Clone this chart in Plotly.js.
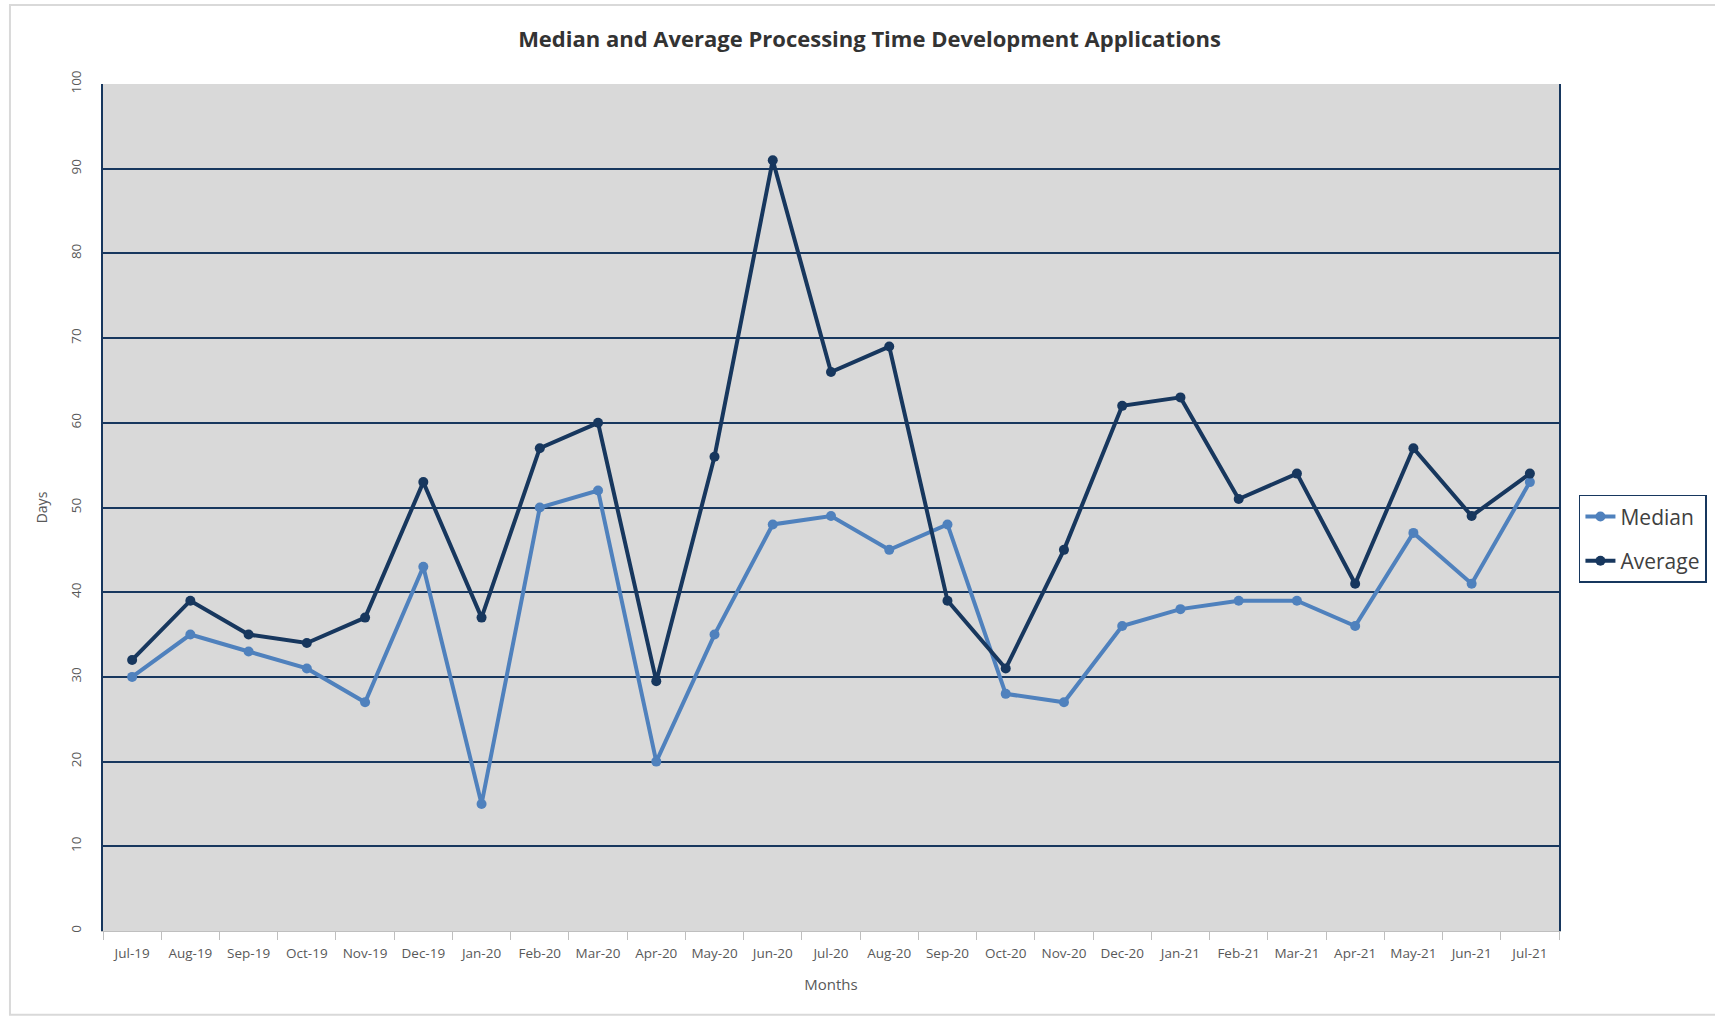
<!DOCTYPE html>
<html>
<head>
<meta charset="utf-8">
<script src="https://cdn.plot.ly/plotly-3.0.1.min.js"></script>
<style>
html,body{margin:0;padding:0;background:#fff;}
#chart{width:1715px;height:1017px;}
</style>
</head>
<body>
<div id="chart"></div>
<script>
const months = ["Jul-19","Aug-19","Sep-19","Oct-19","Nov-19","Dec-19","Jan-20","Feb-20","Mar-20","Apr-20","May-20","Jun-20","Jul-20","Aug-20","Sep-20","Oct-20","Nov-20","Dec-20","Jan-21","Feb-21","Mar-21","Apr-21","May-21","Jun-21","Jul-21"];
const median = [30,35,33,31,27,43,15,50,52,20,35,48,49,45,48,28,27,36,38,39,39,36,47,41,53];
const average = [32,39,35,34,37,53,37,57,60,29.5,56,91,66,69,39,31,45,62,63,51,54,41,57,49,54];

const FONT = "'Open Sans', 'Liberation Sans', sans-serif";
const NAVY = "#17375e";
const LIGHT = "#4f81bd";

const traces = [
  {x: months, y: median, name: "Median", type: "scatter", mode: "lines+markers", legendgroup: "m",
   line: {color: LIGHT, width: 4}, marker: {color: LIGHT, size: 10}},
  {x: months, y: average, name: "Average", type: "scatter", mode: "lines+markers", legendgroup: "a",
   line: {color: NAVY, width: 4}, marker: {color: NAVY, size: 10}}
];

const layout = {
  width: 1715, height: 1017,
  paper_bgcolor: "#ffffff",
  plot_bgcolor: "#d9d9d9",
  margin: {l: 103, r: 156, t: 84, b: 86, autoexpand: false},
  font: {family: FONT, color: "#595959"},
  title: {text: "Median and Average Processing Time Development Applications",
          font: {family: FONT, size: 22, color: "#333333", weight: "bold"},
          x: 0.507, xref: "container", xanchor: "center",
          y: 0.961, yref: "container", yanchor: "middle"},
  xaxis: {
    type: "category", range: [-0.5, 24.5],
    tickson: "boundaries", ticks: "outside", ticklen: 8, tickcolor: "#bfbfbf", tickwidth: 1,
    showgrid: false, showline: true, linecolor: "#bfbfbf", linewidth: 1,
    tickfont: {family: FONT, size: 13.5, color: "#595959"},
    tickangle: 0, ticklabelstandoff: 10,
    title: {text: "Months", font: {family: FONT, size: 15, color: "#595959"}, standoff: 18}
  },
  yaxis: {
    range: [0, 100], dtick: 10, tick0: 0,
    showgrid: true, gridcolor: NAVY, gridwidth: 2,
    zeroline: false,
    showline: true, linecolor: NAVY, linewidth: 2, mirror: true,
    ticks: "", tickangle: -90,
    tickfont: {family: FONT, size: 13.5, color: "#595959"},
    ticklabelstandoff: 15,
    title: {text: "Days", font: {family: FONT, size: 14, color: "#595959"}, standoff: 16}
  },
  showlegend: true,
  legend: {
    x: 1.0137, xanchor: "left", y: 0.515, yanchor: "top",
    bgcolor: "#ffffff", bordercolor: NAVY, borderwidth: 1.5,
    font: {family: FONT, size: 21, color: "#404040"},
    itemwidth: 30, traceorder: "grouped", tracegroupgap: 14
  },
  shapes: [
    {type: "rect", xref: "paper", yref: "paper",
     x0: -0.0639, x1: 1.25, y0: -0.099, y1: 1.0933,
     line: {color: "#d9d9d9", width: 2}, fillcolor: "rgba(0,0,0,0)", layer: "below"}
  ]
};

Plotly.newPlot("chart", traces, layout, {displayModeBar: false, staticPlot: true});
</script>
</body>
</html>
